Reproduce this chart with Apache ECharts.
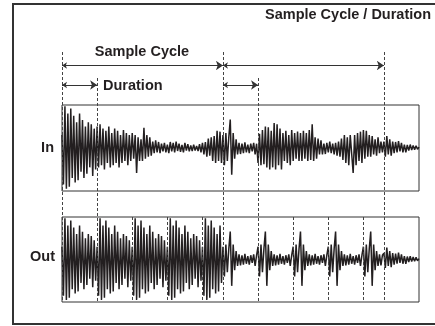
<!DOCTYPE html>
<html>
<head>
<meta charset="utf-8">
<script src="https://cdn.jsdelivr.net/npm/echarts/dist/echarts.min.js"></script>
<style>
  html, body { margin: 0; padding: 0; background: #fff; }
  #main { width: 435px; height: 326px; }
</style>
</head>
<body>
<div id="main"></div>
<script>
// sample positions (one step ~ 1.46 px)
const cycleLen = 110
const durLen = 24
const totalLen = 244

// In waveform
const inAttack1 = [0.3, -0.85, 0.97, -0.95, 0.8, -0.9, 0.92, -0.7, 0.75, -0.8, 0.6, -0.75,
  0.8, -0.55, 0.65, -0.7, 0.5, -0.6, 0.6, -0.45, 0.55, -0.65, 0.45, -0.5]
const inBody1 = [0.5, -0.45, 0.55, -0.4, 0.45, -0.5, 0.4, -0.35, 0.5, -0.45, 0.35, -0.4, 0.45,
  -0.35, 0.4, -0.45, 0.3, -0.35, 0.42, -0.3, 0.35, -0.4, 0.3,
  -0.3, 0.35, -0.25, 0.3, -0.58, 0.25, -0.3,
  0.2, -0.3, 0.47, -0.25, 0.3, -0.2, 0.25,
  -0.18, 0.15, -0.12, 0.18, -0.1, 0.14, -0.12,
  0.1, -0.08, 0.12, -0.1, 0.08, -0.12, 0.14, -0.08, 0.12, -0.1, 0.15, -0.07, 0.1, -0.09,
  0.07, -0.1, 0.12, -0.06, 0.09, -0.08, 0.06, -0.07, 0.08, -0.06, 0.05, -0.07, 0.09,
  -0.1, 0.12, -0.15, 0.14, -0.2, 0.22, -0.18, 0.25, -0.3, 0.28,
  -0.35, 0.4, -0.3, 0.38, -0.35]
const inAttack2 = [0.3, -0.4, 0.35, -0.3, 0.25, 0.66, -0.62, 0.35, -0.25, 0.2, -0.15, 0.12,
  -0.14, 0.1, -0.12, 0.13, -0.1, 0.08, -0.12, 0.1, -0.08, 0.12, -0.15, 0.1]
const inBody2 = [-0.35, 0.33, -0.4, 0.42, -0.38, 0.5,
  -0.45, 0.48, -0.5, 0.4, -0.45, 0.58, -0.5, 0.55, -0.4, 0.45,
  -0.5, 0.35, -0.3, 0.4, -0.35, 0.3, -0.4, 0.42, -0.3, 0.35, -0.25, 0.38, -0.3, 0.35,
  -0.3, 0.4, -0.25, 0.35, -0.3, 0.42, -0.28, 0.55, -0.3, 0.25,
  -0.25, 0.22, -0.15, 0.18, -0.15, 0.1, -0.14, 0.12, -0.1, 0.15, -0.12, 0.1, -0.15, 0.12, -0.18, 0.15, -0.2,
  0.22, -0.28, 0.3, -0.35, 0.25, -0.4, 0.3, 0.3, -0.58,
  0.3, -0.4, 0.35, -0.3, 0.38, -0.35, 0.42, -0.25, 0.4, -0.2, 0.3,
  -0.2, 0.28, -0.15, 0.2, -0.18, 0.25, -0.12, 0.15, -0.1]
const inTail = [0.15, -0.2, 0.28, -0.15, 0.2, -0.18, 0.15, -0.12, 0.14, -0.1, 0.16, -0.08,
  0.12, -0.1, 0.08, -0.1, 0.07, -0.06, 0.08, -0.05, 0.06, -0.04, 0.05, -0.03, 0.02]

const inWave = [...inAttack1, ...inBody1, ...inAttack2, ...inBody2, ...inTail]

// Out: the Duration part of each cycle played over and over
const outWave = [
  ...inAttack1, ...inAttack1, ...inAttack1, ...inAttack1, ...inAttack1.slice(0, 14),
  ...inAttack2, ...inAttack2, ...inAttack2, ...inAttack2, ...inAttack2.slice(0, 14),
  ...inTail
]

// marker positions
const cycleMarks = [0, 110, 220]
const durationMarks = [24, 134]
const outChunkMarks = [48, 72, 96, 158, 182, 206]

const ink = '#231f20'
const font = 'bold 14.5px "Liberation Sans", Arial, sans-serif'

const chart = echarts.init(document.getElementById('main'), null, { renderer: 'canvas' })

const xAx = (i) => ({ type: 'value', gridIndex: i, min: 0, max: totalLen, show: false })

// annotation grid: y measured downward, 0 = 40px from top
function vline(x, y0, y1) {
  return { coords: [[x, y0], [x, y1]] }
}
const dashData = []
cycleMarks.forEach(x => dashData.push(vline(x, 12, 262)))
durationMarks.forEach(x => dashData.push(vline(x, 38, 262)))
outChunkMarks.forEach(x => dashData.push(vline(x, 177, 262)))

const arrowData = [
  { coords: [[0, 25.5], [cycleLen, 25.5]] },
  { coords: [[cycleLen, 25.5], [2 * cycleLen, 25.5]] },
  { coords: [[0, 45], [durLen, 45]] },
  { coords: [[cycleLen, 45], [cycleLen + durLen, 45]] }
]

const option = {
  animation: false,
  backgroundColor: '#fff',
  grid: [
    { left: 62, top: 105, width: 357, height: 86, show: true, borderColor: '#333', borderWidth: 1 },
    { left: 62, top: 217, width: 357, height: 85, show: true, borderColor: '#333', borderWidth: 1 },
    { left: 62, top: 40, width: 357, height: 262 }
  ],
  xAxis: [xAx(0), xAx(1), xAx(2)],
  yAxis: [
    { type: 'value', gridIndex: 0, min: -1, max: 1, show: false },
    { type: 'value', gridIndex: 1, min: -1, max: 1, show: false },
    { type: 'value', gridIndex: 2, min: 0, max: 262, inverse: true, show: false }
  ],
  series: [
    {
      type: 'line', xAxisIndex: 0, yAxisIndex: 0, showSymbol: false, silent: true,
      data: inWave.map((v, i) => [i, v]),
      lineStyle: { color: ink, width: 1.5 }
    },
    {
      type: 'line', xAxisIndex: 1, yAxisIndex: 1, showSymbol: false, silent: true,
      data: outWave.map((v, i) => [i, v]),
      lineStyle: { color: ink, width: 1.5 }
    },
    {
      type: 'lines', coordinateSystem: 'cartesian2d', xAxisIndex: 2, yAxisIndex: 2, silent: true,
      z: 5,
      data: dashData,
      lineStyle: { color: '#444', width: 1, type: [3, 2], opacity: 1 }
    },
    {
      type: 'lines', coordinateSystem: 'cartesian2d', xAxisIndex: 2, yAxisIndex: 2, silent: true,
      z: 5,
      symbol: ['arrow', 'arrow'],
      symbolSize: [5, 7],
      data: arrowData,
      lineStyle: { color: '#333', width: 1, opacity: 1 }
    }
  ],
  graphic: [
    { type: 'rect', shape: { x: 13, y: 4, width: 430, height: 320 },
      style: { fill: 'none', stroke: '#333', lineWidth: 2 }, z: 10 },
    { type: 'text', x: 431, y: 14.5, z: 10,
      style: { text: 'Sample Cycle / Duration', font: font, fill: ink,
        align: 'right', verticalAlign: 'middle', textAlign: 'right', textVerticalAlign: 'middle' } },
    { type: 'text', x: 142, y: 51.5, z: 10,
      style: { text: 'Sample Cycle', font: font, fill: ink,
        align: 'center', verticalAlign: 'middle', textAlign: 'center', textVerticalAlign: 'middle' } },
    { type: 'text', x: 103, y: 85.5, z: 10,
      style: { text: 'Duration', font: font, fill: ink,
        align: 'left', verticalAlign: 'middle', textAlign: 'left', textVerticalAlign: 'middle' } },
    { type: 'text', x: 54, y: 147.5, z: 10,
      style: { text: 'In', font: font, fill: ink,
        align: 'right', verticalAlign: 'middle', textAlign: 'right', textVerticalAlign: 'middle' } },
    { type: 'text', x: 55, y: 257, z: 10,
      style: { text: 'Out', font: font, fill: ink,
        align: 'right', verticalAlign: 'middle', textAlign: 'right', textVerticalAlign: 'middle' } }
  ]
}

chart.setOption(option)
</script>
</body>
</html>
